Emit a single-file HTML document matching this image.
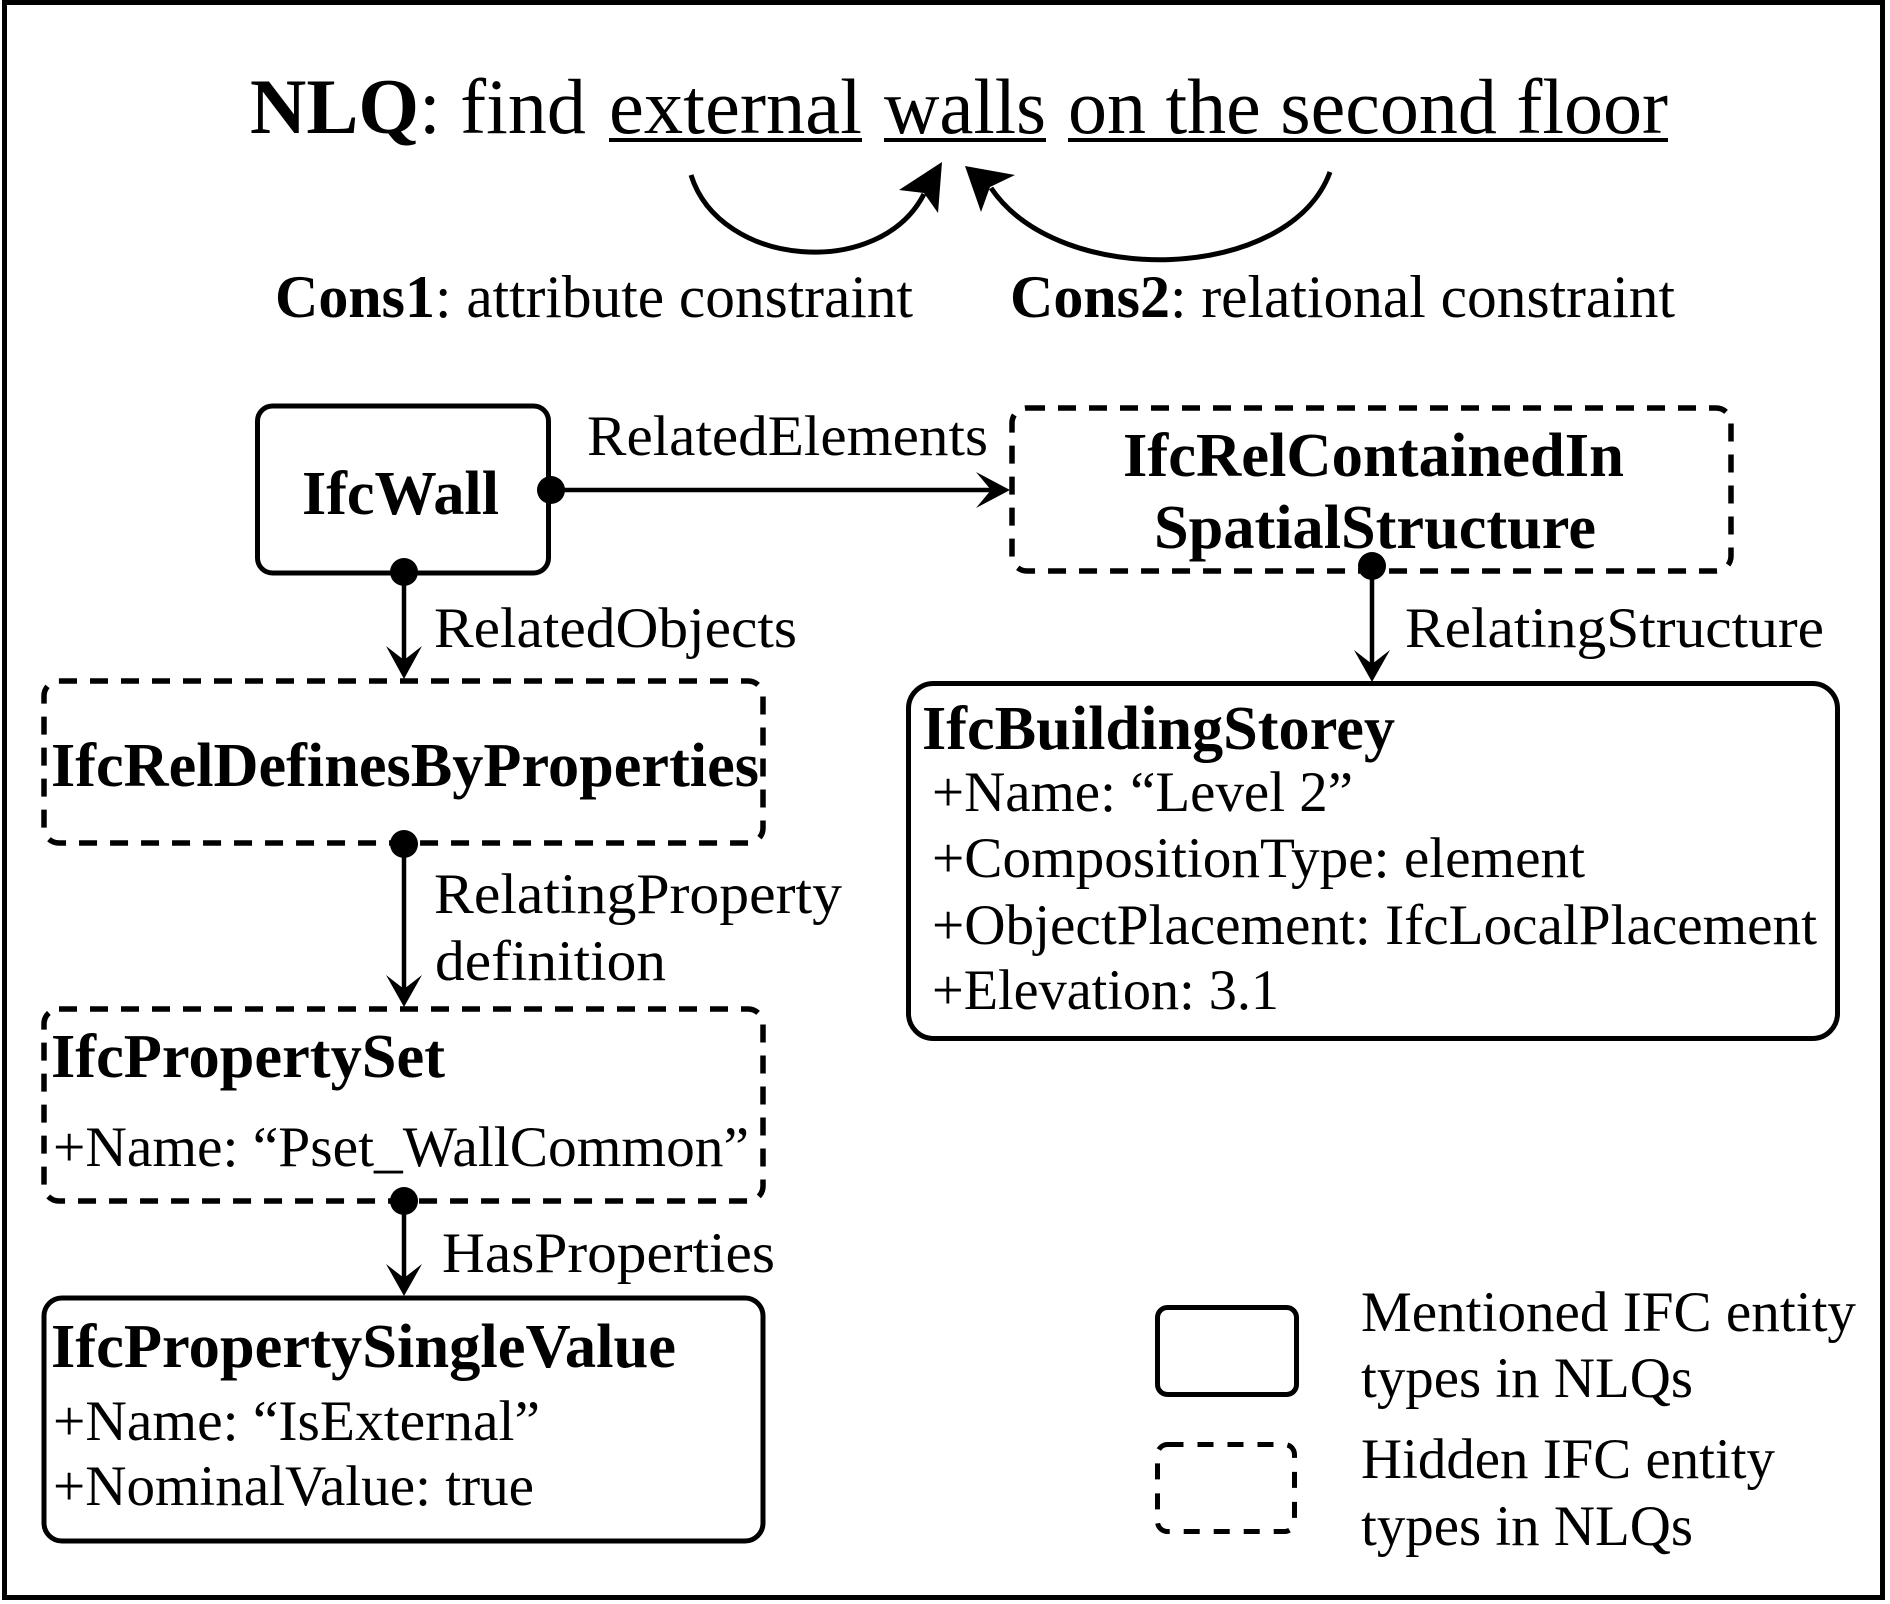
<!DOCTYPE html>
<html>
<head>
<meta charset="utf-8">
<style>
  html, body { margin: 0; padding: 0; background: #fff; }
  svg { display: block; }
  text { font-family: "Liberation Serif", "Times New Roman", serif; fill: #000; }
  .b { font-weight: bold; font-size: 62px; }
  .r { font-size: 57px; }
</style>
</head>
<body>
<svg width="1890" height="1604" viewBox="0 0 1890 1604" xmlns="http://www.w3.org/2000/svg">
  <rect x="0" y="0" width="1890" height="1604" fill="#fff"/>
  <!-- outer frame -->
  <rect x="4.5" y="2.5" width="1878" height="1595" fill="none" stroke="#000" stroke-width="5"/>

  <!-- NLQ title -->
  <text x="250" y="133" font-size="78" font-weight="bold" textLength="169" lengthAdjust="spacingAndGlyphs">NLQ</text>
  <text x="419" y="133" font-size="78">: find</text>
  <text x="609" y="133" font-size="78" textLength="253" lengthAdjust="spacingAndGlyphs">external</text>
  <text x="884" y="133" font-size="78" textLength="162" lengthAdjust="spacingAndGlyphs">walls</text>
  <text x="1068" y="133" font-size="78" textLength="600" lengthAdjust="spacingAndGlyphs">on the second floor</text>
  <rect x="609" y="138" width="253" height="4" fill="#000"/>
  <rect x="884" y="138" width="162" height="4" fill="#000"/>
  <rect x="1068" y="138" width="600" height="4" fill="#000"/>

  <!-- curved arrows -->
  <path d="M691,175 C720,268 880,280 924,194" fill="none" stroke="#000" stroke-width="5"/>
  <polygon points="942,162 899,190 924,193 938,213" fill="#000"/>
  <path d="M1330,172 C1290,282 1060,290 991,188" fill="none" stroke="#000" stroke-width="5"/>
  <polygon points="965,166 1015,175 990,187 981,212" fill="#000"/>

  <!-- Cons labels -->
  <text x="275" y="317" font-size="60" font-weight="bold" textLength="160" lengthAdjust="spacingAndGlyphs">Cons1</text>
  <text x="435" y="317" font-size="60" textLength="478" lengthAdjust="spacingAndGlyphs">: attribute constraint</text>
  <text x="1010" y="317" font-size="60" font-weight="bold" textLength="160" lengthAdjust="spacingAndGlyphs">Cons2</text>
  <text x="1170" y="317" font-size="60" textLength="505" lengthAdjust="spacingAndGlyphs">: relational constraint</text>

  <!-- Boxes -->
  <rect x="257.5" y="406" width="291" height="167" rx="15" fill="none" stroke="#000" stroke-width="5"/>
  <rect x="1012" y="408" width="719" height="163" rx="15" fill="none" stroke="#000" stroke-width="5.5" stroke-dasharray="18 13"/>
  <rect x="44" y="681" width="719" height="162" rx="15" fill="none" stroke="#000" stroke-width="5.5" stroke-dasharray="18 13"/>
  <rect x="44" y="1009" width="719" height="192" rx="15" fill="none" stroke="#000" stroke-width="5.5" stroke-dasharray="18 13"/>
  <rect x="44" y="1298" width="719" height="243" rx="18" fill="none" stroke="#000" stroke-width="5"/>
  <rect x="908.5" y="683.5" width="929" height="355" rx="25" fill="none" stroke="#000" stroke-width="5"/>

  <!-- Legend boxes -->
  <rect x="1157.5" y="1307.5" width="139" height="87" rx="10" fill="none" stroke="#000" stroke-width="5"/>
  <rect x="1157.5" y="1444.5" width="137" height="87" rx="10" fill="none" stroke="#000" stroke-width="5" stroke-dasharray="16 14"/>

  <!-- Connectors -->
  <line x1="551" y1="490" x2="995" y2="490" stroke="#000" stroke-width="4.5"/>
  <circle cx="551" cy="490" r="14" fill="#000"/>
  <polygon points="1010,490 976,472 991,490 976,508" fill="#000"/>

  <line x1="404" y1="572" x2="404" y2="665" stroke="#000" stroke-width="4.5"/>
  <circle cx="404" cy="572" r="14" fill="#000"/>
  <polygon points="404,679 386,646 404,660 422,646" fill="#000"/>

  <line x1="404" y1="844" x2="404" y2="992" stroke="#000" stroke-width="4.5"/>
  <circle cx="404" cy="844" r="14" fill="#000"/>
  <polygon points="404,1007 386,975 404,989 422,975" fill="#000"/>

  <line x1="404" y1="1201" x2="404" y2="1281" stroke="#000" stroke-width="4.5"/>
  <circle cx="404" cy="1201" r="14" fill="#000"/>
  <polygon points="404,1296 386,1264 404,1278 422,1264" fill="#000"/>

  <line x1="1372" y1="566" x2="1372" y2="667" stroke="#000" stroke-width="4.5"/>
  <circle cx="1372" cy="566" r="14" fill="#000"/>
  <polygon points="1372,682 1354,650 1372,664 1390,650" fill="#000"/>

  <!-- Box texts -->
  <text class="b" x="302" y="514" textLength="197" lengthAdjust="spacingAndGlyphs">IfcWall</text>
  <text class="b" x="1123" y="476" textLength="501" lengthAdjust="spacingAndGlyphs">IfcRelContainedIn</text>
  <text class="b" x="1154" y="548" textLength="442" lengthAdjust="spacingAndGlyphs">SpatialStructure</text>
  <text class="b" x="51" y="786" textLength="708" lengthAdjust="spacingAndGlyphs">IfcRelDefinesByProperties</text>
  <text class="b" x="51" y="1077" textLength="394" lengthAdjust="spacingAndGlyphs">IfcPropertySet</text>
  <text class="r" x="53" y="1166" textLength="696" lengthAdjust="spacingAndGlyphs">+Name: “Pset_WallCommon”</text>
  <text class="b" x="51" y="1367" textLength="625" lengthAdjust="spacingAndGlyphs">IfcPropertySingleValue</text>
  <text class="r" x="53" y="1440" textLength="487" lengthAdjust="spacingAndGlyphs">+Name: “IsExternal”</text>
  <text class="r" x="53" y="1505" textLength="481" lengthAdjust="spacingAndGlyphs">+NominalValue: true</text>
  <text class="b" x="922" y="749" textLength="473" lengthAdjust="spacingAndGlyphs">IfcBuildingStorey</text>
  <text class="r" x="932" y="811" textLength="421" lengthAdjust="spacingAndGlyphs">+Name: “Level 2”</text>
  <text class="r" x="932" y="877" textLength="653" lengthAdjust="spacingAndGlyphs">+CompositionType: element</text>
  <text class="r" x="932" y="944" textLength="885" lengthAdjust="spacingAndGlyphs">+ObjectPlacement: IfcLocalPlacement</text>
  <text class="r" x="932" y="1009" textLength="347" lengthAdjust="spacingAndGlyphs">+Elevation: 3.1</text>

  <!-- Connector labels -->
  <text class="r" x="587" y="455" textLength="401" lengthAdjust="spacingAndGlyphs">RelatedElements</text>
  <text class="r" x="434" y="647" textLength="363" lengthAdjust="spacingAndGlyphs">RelatedObjects</text>
  <text class="r" x="434" y="913" textLength="408" lengthAdjust="spacingAndGlyphs">RelatingProperty</text>
  <text class="r" x="435" y="980" textLength="231" lengthAdjust="spacingAndGlyphs">definition</text>
  <text class="r" x="442" y="1272" textLength="333" lengthAdjust="spacingAndGlyphs">HasProperties</text>
  <text class="r" x="1405" y="647" textLength="419" lengthAdjust="spacingAndGlyphs">RelatingStructure</text>

  <!-- Legend text -->
  <text class="r" x="1361" y="1331" textLength="495" lengthAdjust="spacingAndGlyphs">Mentioned IFC entity</text>
  <text class="r" x="1361" y="1397" textLength="332" lengthAdjust="spacingAndGlyphs">types in NLQs</text>
  <text class="r" x="1361" y="1478" textLength="414" lengthAdjust="spacingAndGlyphs">Hidden IFC entity</text>
  <text class="r" x="1361" y="1545" textLength="332" lengthAdjust="spacingAndGlyphs">types in NLQs</text>
</svg>
</body>
</html>
